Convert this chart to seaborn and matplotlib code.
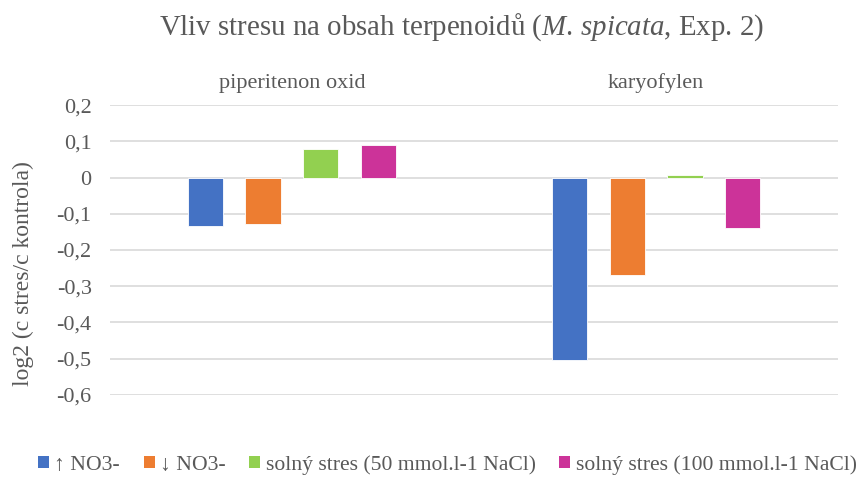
import matplotlib
matplotlib.use("Agg")
import matplotlib.pyplot as plt
import seaborn as sns
import pandas as pd
from matplotlib.ticker import FuncFormatter
from matplotlib.patches import Patch

# data
compounds = ["piperitenon oxid", "karyofylen"]
treatments = ["↑ NO3-", "↓ NO3-", "solný stres (50 mmol.l-1 NaCl)", "solný stres (100 mmol.l-1 NaCl)"]
up_no3 = [-0.133, -0.505]
down_no3 = [-0.128, -0.270]
salt_50 = [0.078, 0.008]
salt_100 = [0.090, -0.138]
colors = ["#4472C4", "#ED7D31", "#92D050", "#CC3399"]

rows = []
for t, vals in zip(treatments, [up_no3, down_no3, salt_50, salt_100]):
    for c, v in zip(compounds, vals):
        rows.append({"compound": c, "treatment": t, "value": v})
df = pd.DataFrame(rows)

sns.set_style("white")
plt.rcParams['font.family'] = ['Liberation Serif', 'DejaVu Serif']
plt.rcParams['mathtext.fontset'] = 'custom'
plt.rcParams['mathtext.rm'] = 'Liberation Serif'
plt.rcParams['mathtext.it'] = 'Liberation Serif:italic'
text_col = "#595959"

fig = plt.figure(figsize=(8.57, 4.78), dpi=100)
ax = fig.add_axes([0.128, 0.174, 0.850, 0.606])

sns.barplot(data=df, x="compound", y="value", hue="treatment", order=compounds,
            hue_order=treatments, palette=colors, saturation=1, width=0.634, gap=0.39,
            edgecolor="white", linewidth=0.6, legend=False, ax=ax)

ax.set_ylim(-0.6, 0.2)
ax.set_yticks([0.2, 0.1, 0, -0.1, -0.2, -0.3, -0.4, -0.5, -0.6])
ax.yaxis.set_major_formatter(FuncFormatter(lambda v, p: ("%g" % round(v, 1)).replace(".", ",")))
ax.grid(axis="y", color="#D9D9D9", linewidth=1.2)
ax.set_axisbelow(True)
for s in ax.spines.values():
    s.set_visible(False)
ax.tick_params(axis="y", length=0, pad=13, labelsize=16, labelcolor=text_col)

# category labels sit above the plot
ax.xaxis.tick_top()
ax.tick_params(axis="x", length=0, pad=9, labelsize=16, labelcolor=text_col)
ax.set_xlabel("")
ax.set_ylabel("log2 (c stres/c kontrola)", fontsize=17, color=text_col)
ax.yaxis.set_label_coords(-0.104, 0.42)

fig.text(0.539, 0.943, r"Vliv stresu na obsah terpenoidů ($\it{M.}$$\,$$\it{spicata}$, Exp. 2)",
         fontsize=20.8, color=text_col, ha="center", va="center")

handles = [Patch(facecolor=c, edgecolor="none") for c in colors]
fig.legend(handles, treatments, loc="center", bbox_to_anchor=(0.522, 0.027), ncol=4,
           frameon=False, fontsize=15.6, handlelength=0.5, handleheight=0.5,
           handletextpad=0.25, columnspacing=1.1, borderaxespad=0, borderpad=0,
           labelcolor=text_col)

plt.savefig("out.png", dpi=100)
plt.close()
